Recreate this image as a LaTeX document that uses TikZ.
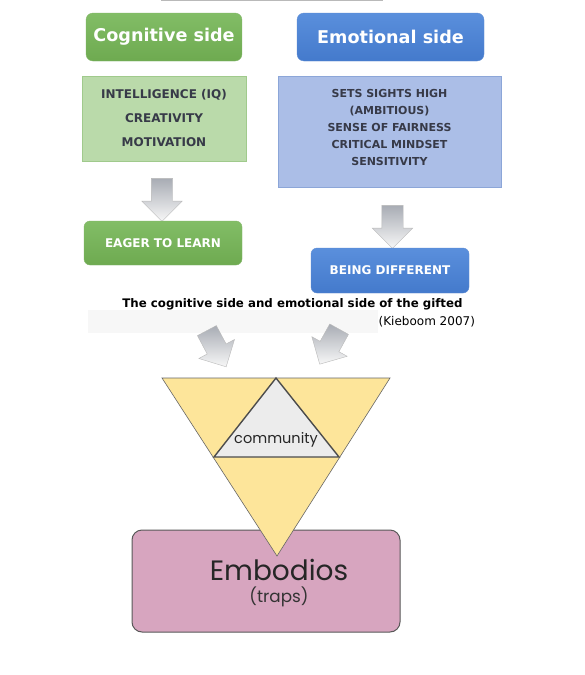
\documentclass[tikz,border=0pt]{standalone}
\usepackage{fontspec}
\setmainfont{DejaVu Sans}
\newfontfamily\popfont{Poppins}
\usetikzlibrary{shapes.arrows}
\definecolor{cogdark}{RGB}{110,170,80}
\definecolor{coglight}{RGB}{130,189,102}
\definecolor{emodark}{RGB}{68,122,204}
\definecolor{emolight}{RGB}{90,143,220}
\definecolor{cogpale}{RGB}{186,218,170}
\definecolor{cogedge}{RGB}{160,202,140}
\definecolor{emopale}{RGB}{171,190,231}
\definecolor{emoedge}{RGB}{140,166,216}
\definecolor{listink}{RGB}{55,58,72}
\definecolor{pyryellow}{RGB}{253,229,154}
\definecolor{pyrgray}{RGB}{236,236,236}
\definecolor{embpink}{RGB}{215,165,191}
\definecolor{arrgray}{RGB}{168,172,180}

\begin{document}
\begin{tikzpicture}[x=1pt, y=-1pt,
    cogfill/.style={top color=coglight, bottom color=cogdark, draw=cogdark!85!white},
    emofill/.style={top color=emolight, bottom color=emodark, draw=emodark!85!white},
    headbox/.style={rounded corners=7pt, text=white, font=\fontsize{17.6}{20}\selectfont\bfseries},
    endbox/.style={rounded corners=6pt, text=white, font=\fontsize{12}{14}\selectfont\bfseries},
    listbox/.style={align=center, text=listink, inner sep=0pt},
    blockarrow/.style={single arrow, minimum height=43pt, inner sep=0pt, inner ysep=10.5pt,
        single arrow head extend=9.5pt, draw=gray!55, top color=arrgray, bottom color=gray!6}]
    \useasboundingbox (0,0) rectangle (584,675);
    \fill[white] (0,0) rectangle (584,675);
    \draw[gray!55, line width=1.2pt, fill=white] (162,-4) rectangle (382,0.6);
    \node[headbox, cogfill, minimum width=156pt, minimum height=48pt] (cog) at (164,37) {Cognitive side};
    \node[headbox, emofill, minimum width=187pt, minimum height=48pt] (emo) at (390.5,37) {Emotional side};
    \node[listbox, fill=cogpale, draw=cogedge, minimum width=164pt, minimum height=85pt,
        font=\fontsize{12}{24}\selectfont\bfseries] (cogtraits) at (164,118.5)
        {INTELLIGENCE (IQ)\\CREATIVITY\\MOTIVATION};
    \node[listbox, fill=emopale, draw=emoedge, minimum width=223pt, minimum height=111pt] (emotraits) at (389.5,131.5) {};
    \node[listbox, font=\fontsize{11}{17}\selectfont\bfseries, yshift=4pt] (emolist) at (emotraits)
        {SETS SIGHTS HIGH\\(AMBITIOUS)\\SENSE OF FAIRNESS\\CRITICAL MINDSET\\SENSITIVITY};
    \node[blockarrow, rotate=-90] (cogdown) at (162,194.5) {};
    \node[blockarrow, rotate=-90] (emodown) at (392.5,221.5) {};
    \node[endbox, cogfill, minimum width=158pt, minimum height=44pt] (eager) at (163,243) {EAGER TO LEARN};
    \node[endbox, emofill, minimum width=158pt, minimum height=45pt] (different) at (390,270.5) {BEING DIFFERENT};
    \fill[gray!6] (88,310) rectangle (378,333);
    \node[font=\fontsize{11.8}{14}\selectfont\bfseries] (caption) at (292.5,304)
        {The cognitive side and emotional side of the gifted};
    \node[font=\fontsize{12}{14}\selectfont, anchor=east] (source) at (478.5,322) {(Kieboom 2007)};
    \node[blockarrow, rotate=-62, minimum height=41pt] (cogdiag) at (214,344) {};
    \node[blockarrow, rotate=-119, minimum height=40pt] (emodiag) at (332,342) {};
    \node[rounded corners=10pt, fill=embpink, draw=black!65, line width=1pt,
        minimum width=268pt, minimum height=102pt] (embodios) at (266,581) {};
    \coordinate (pl) at (162,378);
    \coordinate (pm) at (276,378);
    \coordinate (pr) at (390,378);
    \coordinate (ml) at (214,457);
    \coordinate (mr) at (339,457);
    \coordinate (pb) at (277,556);
    \filldraw[fill=pyryellow, draw=black!60, line width=0.6pt] (pl) -- (pr) -- (pb) -- cycle;
    \filldraw[fill=pyrgray, draw=black!70, line width=1.4pt] (pm) -- (mr) -- (ml) -- cycle;
    \node[font=\popfont\fontsize{14.5}{17}\selectfont, text=black!85] (community) at (276,440) {community};
    \node[font=\popfont\fontsize{28}{30}\selectfont, text=black!85] (embname) at (279,570) {Embodios};
    \node[font=\popfont\fontsize{16.8}{19}\selectfont, text=black!80] (traps) at (279,597) {(traps)};
\end{tikzpicture}
\end{document}
